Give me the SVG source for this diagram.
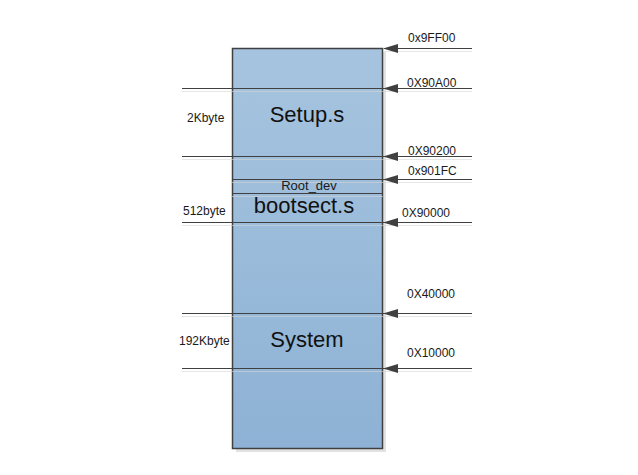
<svg xmlns="http://www.w3.org/2000/svg" width="638" height="475" viewBox="0 0 638 475">
<style>
.ln{stroke:#404040;stroke-width:1;fill:none}
.sh{stroke:#d6d6d6;stroke-width:1;fill:none;stroke-opacity:0.6}
.ah{fill:#404040}
.lab{font-family:"Liberation Sans",Arial,sans-serif;font-size:12px;fill:#1a1a1a}
.big{font-family:"Liberation Sans",Arial,sans-serif;font-size:22px;fill:#111;text-anchor:middle}
</style>
<defs>
<linearGradient id="g" x1="0" y1="0" x2="0" y2="1">
<stop offset="0" stop-color="#a6c4df"/>
<stop offset="1" stop-color="#8eb2d5"/>
</linearGradient>
</defs>
<g id="memory">
<rect x="236" y="52" width="150" height="400" fill="#e2e2e2"/>
<rect x="232.5" y="48.5" width="150" height="400" fill="url(#g)" stroke="#404040" stroke-width="1.5"/>
</g>
<g id="connectors">
<line class="sh" x1="384" y1="51.5" x2="472" y2="51.5"/>
<line class="sh" x1="182" y1="91.5" x2="472" y2="91.5"/>
<line class="sh" x1="182" y1="159.5" x2="472" y2="159.5"/>
<line class="sh" x1="232" y1="182.5" x2="472" y2="182.5"/>
<line class="sh" x1="232" y1="196.5" x2="383" y2="196.5"/>
<line class="sh" x1="182" y1="225.5" x2="472" y2="225.5"/>
<line class="sh" x1="182" y1="316.5" x2="472" y2="316.5"/>
<line class="sh" x1="182" y1="371.5" x2="472" y2="371.5"/>
<path class="ln" d="M472,48.5 H384"/>
<path class="ah" d="M383,48.5 l15,-4.5 v9 z"/>
<path class="ln" d="M472,88.5 H182"/>
<path class="ah" d="M383,88.5 l15,-4.5 v9 z"/>
<path class="ln" d="M472,156.5 H182"/>
<path class="ah" d="M383,156.5 l15,-4.5 v9 z"/>
<path class="ln" d="M472,179.5 H232"/>
<path class="ah" d="M383,179.5 l15,-4.5 v9 z"/>
<path class="ln" d="M383,193.5 H232"/>
<path class="ln" d="M472,222.5 H182"/>
<path class="ah" d="M383,222.5 l15,-4.5 v9 z"/>
<path class="ln" d="M472,313.5 H182"/>
<path class="ah" d="M383,313.5 l15,-4.5 v9 z"/>
<path class="ln" d="M472,368.5 H182"/>
<path class="ah" d="M383,368.5 l15,-4.5 v9 z"/>
</g>
<g id="addresses">
<text class="lab" x="408" y="42">0x9FF00</text>
<text class="lab" x="407" y="87">0X90A00</text>
<text class="lab" x="408" y="155">0X90200</text>
<text class="lab" x="408" y="175">0x901FC</text>
<text class="lab" x="402" y="217">0X90000</text>
<text class="lab" x="407" y="298">0X40000</text>
<text class="lab" x="407" y="357">0X10000</text>
</g>
<g id="sizes">
<text class="lab" x="187" y="122">2Kbyte</text>
<text class="lab" x="183" y="215">512byte</text>
<text class="lab" x="179" y="345">192Kbyte</text>
</g>
<g id="setup"><text class="big" x="307" y="122">Setup.s</text></g>
<g id="rootdev"><text class="lab" x="309" y="190" style="font-size:13px;text-anchor:middle">Root_dev</text></g>
<g id="bootsect"><text class="big" x="304" y="213">bootsect.s</text></g>
<g id="system"><text class="big" x="307" y="347">System</text></g>
</svg>
